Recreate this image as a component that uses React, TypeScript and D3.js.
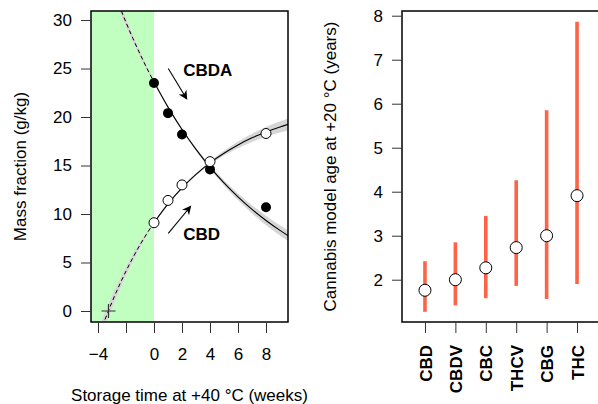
import React, { useEffect, useRef } from "react";
import * as d3 from "d3";

// left panel: storage experiment at +40 °C
const timeWeeks = [0, 1, 2, 4, 8];
const cbdaObs = [23.5, 20.4, 18.2, 14.6, 10.7];
const cbdObs = [9.1, 11.4, 13.0, 15.4, 18.3];

// fitted curves (weeks, g/kg) and half-width of grey band
const fitTime = [-4.5, -4, -3.5, -3, -2.5, -2, -1.5, -1, -0.5, 0, 1, 2, 3, 4, 5, 6, 7, 8, 9, 9.6];
const cbdaFit = [39.78, 37.53, 35.42, 33.42, 31.54, 29.76, 28.08, 26.5, 25.01, 23.6, 21.02, 18.71, 16.67, 14.84, 13.21, 11.77, 10.48, 9.33, 8.31, 7.75];
const cbdaBand = [0.8, 0.7, 0.65, 0.6, 0.5, 0.45, 0.35, 0.3, 0.2, 0.15, 0.12, 0.12, 0.15, 0.2, 0.28, 0.35, 0.42, 0.48, 0.52, 0.55];
const cbdFit = [-4.96, -2.84, -0.88, 0.92, 2.58, 4.11, 5.51, 6.81, 8.0, 9.1, 11.04, 12.69, 14.08, 15.27, 16.27, 17.12, 17.85, 18.46, 18.98, 19.25];
const cbdBand = [1.0, 0.85, 0.75, 0.65, 0.55, 0.45, 0.38, 0.3, 0.2, 0.12, 0.1, 0.1, 0.12, 0.18, 0.25, 0.33, 0.42, 0.5, 0.58, 0.62];
const estimatedZero = [-3.25, 0];

const xTicks = [-4, -2, 0, 2, 4, 6, 8];
const xTickLabels = ["\u22124", "", "0", "2", "4", "6", "8"];
const yTicksLeft = [0, 5, 10, 15, 20, 25, 30];

// right panel: model age at +20 °C
const compounds = ["CBD", "CBDV", "CBC", "THCV", "CBG", "THC"];
const ageMedian = [1.76, 2.0, 2.27, 2.73, 3.0, 3.91];
const ageLow = [1.27, 1.42, 1.58, 1.86, 1.56, 1.9];
const ageHigh = [2.42, 2.85, 3.45, 4.26, 5.85, 7.86];
const yTicksRight = [2, 3, 4, 5, 6, 7, 8];

const FONT = "'Liberation Sans', Arial, Helvetica, sans-serif";
const FS = 17;

export default function App() {
  const svgRef = useRef<SVGSVGElement | null>(null);

  useEffect(() => {
    const svg = d3.select(svgRef.current);
    svg.selectAll("*").remove();
    svg.attr("width", 598).attr("height", 404).style("font-family", FONT);

    // ---------- left panel ----------
    const L = { left: 91, right: 288, top: 11, bottom: 322 };
    const x = d3.scaleLinear().domain([-4.5, 9.571]).range([L.left, L.right]);
    const y = d3.scaleLinear().domain([-1.134, 30.93]).range([L.bottom, L.top]);

    svg
      .append("clipPath")
      .attr("id", "clipL")
      .append("rect")
      .attr("x", L.left)
      .attr("y", L.top)
      .attr("width", L.right - L.left)
      .attr("height", L.bottom - L.top);

    const left = svg.append("g");
    const plot = left.append("g").attr("clip-path", "url(#clipL)");

    // green zone before storage start
    plot
      .append("rect")
      .attr("x", L.left)
      .attr("y", L.top)
      .attr("width", x(0) - L.left)
      .attr("height", L.bottom - L.top)
      .attr("fill", "#C1FFC1");

    const rows = (vals: number[], band: number[]) =>
      fitTime.map((t, i) => ({ t, v: vals[i], hw: band[i] }));
    const area = d3
      .area<{ t: number; v: number; hw: number }>()
      .x((d) => x(d.t))
      .y0((d) => y(d.v - d.hw))
      .y1((d) => y(d.v + d.hw))
      .curve(d3.curveMonotoneX);
    const line = d3
      .line<{ t: number; v: number; hw: number }>()
      .x((d) => x(d.t))
      .y((d) => y(d.v))
      .curve(d3.curveMonotoneX);

    [rows(cbdaFit, cbdaBand), rows(cbdFit, cbdBand)].forEach((r) => {
      plot.append("path").attr("d", area(r)).attr("fill", "#d6d6d6");
      plot
        .append("path")
        .attr("d", line(r.filter((d) => d.t <= 0)))
        .attr("fill", "none")
        .attr("stroke", "#000")
        .attr("stroke-width", 1)
        .attr("stroke-dasharray", "4 3");
      plot
        .append("path")
        .attr("d", line(r.filter((d) => d.t >= 0)))
        .attr("fill", "none")
        .attr("stroke", "#000")
        .attr("stroke-width", 1.1);
    });

    // cross at estimated start
    const cx = x(estimatedZero[0]);
    const cy = y(estimatedZero[1]);
    plot
      .append("path")
      .attr("d", `M${cx - 7},${cy}H${cx + 7}M${cx},${cy - 7}V${cy + 7}`)
      .attr("stroke", "#333")
      .attr("stroke-width", 1.2);

    // points
    left
      .append("g")
      .selectAll("circle")
      .data(timeWeeks)
      .join("circle")
      .attr("cx", (d) => x(d))
      .attr("cy", (_d, i) => y(cbdaObs[i]))
      .attr("r", 5)
      .attr("fill", "#000");
    left
      .append("g")
      .selectAll("circle")
      .data(timeWeeks)
      .join("circle")
      .attr("cx", (d) => x(d))
      .attr("cy", (_d, i) => y(cbdObs[i]))
      .attr("r", 5)
      .attr("fill", "#fff")
      .attr("stroke", "#000")
      .attr("stroke-width", 1);

    // arrows + labels
    svg
      .append("defs")
      .append("marker")
      .attr("id", "arrowHead")
      .attr("viewBox", "0 0 10 10")
      .attr("refX", 9)
      .attr("refY", 5)
      .attr("markerWidth", 11)
      .attr("markerHeight", 9)
      .attr("markerUnits", "userSpaceOnUse")
      .attr("orient", "auto")
      .append("path")
      .attr("d", "M0,0L10,5L0,10L3,5Z")
      .attr("fill", "#000");

    const arrows = [
      { from: [1.02, 25.0], to: [2.34, 21.86] },
      { from: [1.02, 8.0], to: [2.62, 10.8] },
    ];
    arrows.forEach((a) => {
      left
        .append("line")
        .attr("x1", x(a.from[0]))
        .attr("y1", y(a.from[1]))
        .attr("x2", x(a.to[0]))
        .attr("y2", y(a.to[1]))
        .attr("stroke", "#000")
        .attr("stroke-width", 1.1)
        .attr("marker-end", "url(#arrowHead)");
    });
    const labels = [
      { text: "CBDA", t: 2.09, v: 24.9 },
      { text: "CBD", t: 2.09, v: 8.0 },
    ];
    labels.forEach((l) => {
      left
        .append("text")
        .attr("x", x(l.t))
        .attr("y", y(l.v))
        .attr("dy", "0.36em")
        .attr("font-weight", "bold")
        .attr("font-size", FS)
        .text(l.text);
    });

    // box
    left
      .append("rect")
      .attr("x", L.left)
      .attr("y", L.top)
      .attr("width", L.right - L.left)
      .attr("height", L.bottom - L.top)
      .attr("fill", "none")
      .attr("stroke", "#000")
      .attr("stroke-width", 1.5);

    // axes
    const xAx = left.append("g").attr("transform", `translate(0,${L.bottom})`);
    xAx
      .call(
        d3
          .axisBottom(x)
          .tickValues(xTicks)
          .tickSize(11)
          .tickPadding(15)
          .tickFormat((_d, i) => xTickLabels[i])
      )
      .attr("font-family", FONT)
      .attr("font-size", FS);
    xAx.select(".domain").remove();
    xAx.selectAll("line").attr("stroke", "#333");
    xAx.selectAll("text").attr("fill", "#000");

    const yAx = left.append("g").attr("transform", `translate(${L.left},0)`);
    yAx
      .call(d3.axisLeft(y).tickValues(yTicksLeft).tickSize(10).tickPadding(9))
      .attr("font-family", FONT)
      .attr("font-size", FS);
    yAx.select(".domain").remove();
    yAx.selectAll("line").attr("stroke", "#333");
    yAx.selectAll("text").attr("fill", "#000");

    left
      .append("text")
      .attr("x", (L.left + L.right) / 2)
      .attr("y", 401)
      .attr("text-anchor", "middle")
      .attr("font-size", FS)
      .text("Storage time at +40 \u00B0C (weeks)");
    left
      .append("text")
      .attr("transform", `translate(26,${(L.top + L.bottom) / 2}) rotate(-90)`)
      .attr("text-anchor", "middle")
      .attr("font-size", FS)
      .text("Mass fraction (g/kg)");

    // ---------- right panel ----------
    const R = { left: 402, right: 600, top: 11, bottom: 322 };
    const xr = d3.scalePoint().domain(compounds).range([R.left, R.right]).padding(0.755);
    const yr = d3.scaleLinear().domain([1.039, 8.107]).range([R.bottom, R.top]);
    const right = svg.append("g");

    right
      .append("g")
      .selectAll("line")
      .data(compounds)
      .join("line")
      .attr("x1", (d) => xr(d)!)
      .attr("x2", (d) => xr(d)!)
      .attr("y1", (_d, i) => yr(ageLow[i]))
      .attr("y2", (_d, i) => yr(ageHigh[i]))
      .attr("stroke", "#FF6347")
      .attr("stroke-width", 3.6);

    right
      .append("g")
      .selectAll("circle")
      .data(compounds)
      .join("circle")
      .attr("cx", (d) => xr(d)!)
      .attr("cy", (_d, i) => yr(ageMedian[i]))
      .attr("r", 6)
      .attr("fill", "#fff")
      .attr("stroke", "#000")
      .attr("stroke-width", 1);

    right
      .append("rect")
      .attr("x", R.left)
      .attr("y", R.top)
      .attr("width", R.right - R.left)
      .attr("height", R.bottom - R.top)
      .attr("fill", "none")
      .attr("stroke", "#000")
      .attr("stroke-width", 1.5);

    const xrAx = right.append("g").attr("transform", `translate(0,${R.bottom})`);
    xrAx.call(d3.axisBottom(xr).tickSize(11).tickPadding(12)).attr("font-family", FONT).attr("font-size", FS);
    xrAx.select(".domain").remove();
    xrAx.selectAll("line").attr("stroke", "#333");
    xrAx
      .selectAll("text")
      .attr("fill", "#000")
      .attr("font-weight", "bold")
      .attr("transform", "rotate(-90)")
      .attr("text-anchor", "end")
      .attr("x", -23)
      .attr("y", 0)
      .attr("dy", "0.36em");

    const yrAx = right.append("g").attr("transform", `translate(${R.left},0)`);
    yrAx
      .call(
        d3
          .axisLeft(yr)
          .tickValues(yTicksRight)
          .tickSize(10)
          .tickPadding(9)
          .tickFormat(d3.format("d"))
      )
      .attr("font-family", FONT)
      .attr("font-size", FS);
    yrAx.select(".domain").remove();
    yrAx.selectAll("line").attr("stroke", "#333");
    yrAx.selectAll("text").attr("fill", "#000");

    right
      .append("text")
      .attr("transform", `translate(336,${(R.top + R.bottom) / 2}) rotate(-90)`)
      .attr("text-anchor", "middle")
      .attr("font-size", FS)
      .text("Cannabis model age at +20 \u00B0C (years)");
  }, []);

  return (
    <div style={{ position: "absolute", left: 0, top: 0, width: 598, height: 404, background: "#fff" }}>
      <svg ref={svgRef}></svg>
    </div>
  );
}
